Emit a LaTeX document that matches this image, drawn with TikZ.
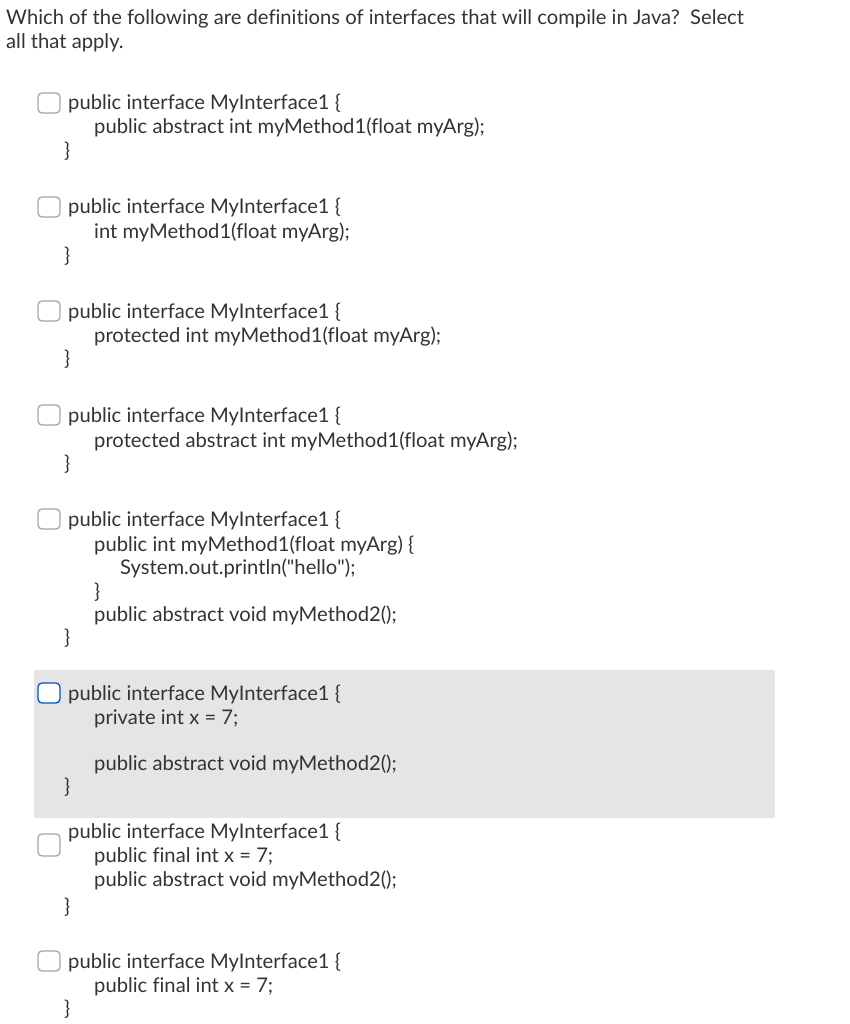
\documentclass[tikz,border=0pt]{standalone}
\usepackage{fontspec}
\setmainfont[Ligatures=NoCommon]{Lato}
\begin{document}
\begin{tikzpicture}[x=1pt,y=-1pt,
  t/.style={anchor=base west,inner sep=0pt,font=\fontsize{20.2}{22}\selectfont,text=black!80},
  cb/.style={draw=gray!70,line width=1.3pt,rounded corners=4pt,fill=white}]
\useasboundingbox (0,0) rectangle (850,1024);
\fill[gray!20] (34,670) rectangle (775,818);
\newcommand\tl[4]{\node[t] (#1) at (#2,#3+7) {#4};}
\tl{q1}{6}{18}{Which of the following are definitions of interfaces that will compile in Java?\ \ Select}
\tl{q2}{6}{42}{all that apply.}
\newcommand\opt[2]{\draw[cb] (38,#1-10) rectangle (60,#1+10);}
% 1
\opt{103}{}
\tl{a1}{68}{103}{public interface MyInterface1 \{}
\tl{a2}{94}{127}{public abstract int myMethod1(float myArg);}
\tl{a3}{64}{151}{\}}
% 2
\opt{207}{}
\tl{b1}{68}{207}{public interface MyInterface1 \{}
\tl{b2}{94}{231}{int myMethod1(float myArg);}
\tl{b3}{64}{255}{\}}
% 3
\opt{311}{}
\tl{c1}{68}{311}{public interface MyInterface1 \{}
\tl{c2}{94}{335}{protected int myMethod1(float myArg);}
\tl{c3}{64}{358}{\}}
% 4
\opt{415}{}
\tl{d1}{68}{415}{public interface MyInterface1 \{}
\tl{d2}{94}{440}{protected abstract int myMethod1(float myArg);}
\tl{d3}{64}{463}{\}}
% 5
\opt{519}{}
\tl{e1}{68}{519}{public interface MyInterface1 \{}
\tl{e2}{94}{544}{public int myMethod1(float myArg) \{}
\tl{e3}{120}{567}{System.out.println(\textquotedbl hello\textquotedbl);}
\tl{e4}{94}{591}{\}}
\tl{e5}{94}{614}{public abstract void myMethod2();}
\tl{e6}{64}{637}{\}}
% 6
\draw[cb,draw=blue!60!cyan!80!black] (38,683) rectangle (60,703);
\tl{f1}{68}{693}{public interface MyInterface1 \{}
\tl{f2}{94}{717}{private int x = 7;}
\tl{f3}{94}{763}{public abstract void myMethod2();}
\tl{f4}{64}{786}{\}}
% 7
\draw[cb] (38,834) rectangle (60,856);
\tl{g1}{68}{831}{public interface MyInterface1 \{}
\tl{g2}{94}{855}{public final int x = 7;}
\tl{g3}{94}{879}{public abstract void myMethod2();}
\tl{g4}{64}{906}{\}}
% 8
\opt{961}{}
\tl{h1}{68}{961}{public interface MyInterface1 \{}
\tl{h2}{94}{985}{public final int x = 7;}
\tl{h3}{64}{1008}{\}}
\end{tikzpicture}
\end{document}
